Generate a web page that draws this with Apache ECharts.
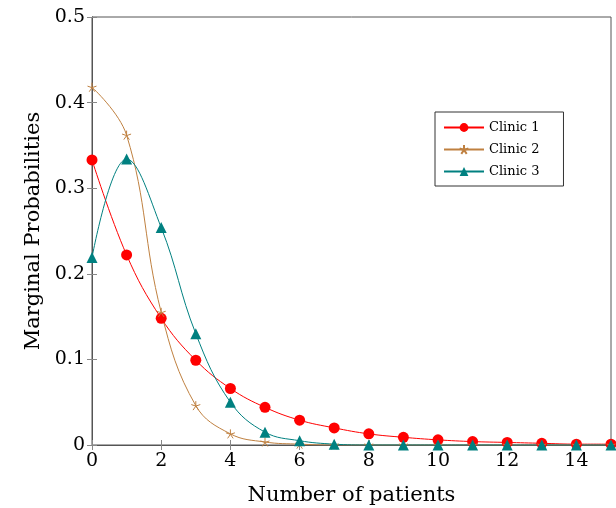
<!DOCTYPE html>
<html>
<head>
<meta charset="utf-8">
<script src="https://cdn.jsdelivr.net/npm/echarts@6/dist/echarts.min.js"></script>
<style>
    html, body { margin: 0; padding: 0; background: #fff; }
    #charts { width: 616px; height: 508px; }
</style>
</head>
<body>
<div id="charts"></div>
<script>
var patients = [0, 1, 2, 3, 4, 5, 6, 7, 8, 9, 10, 11, 12, 13, 14, 15];
var clinic1 = [0.333, 0.222, 0.148, 0.099, 0.066, 0.044, 0.029, 0.020, 0.013, 0.009, 0.006, 0.004, 0.003, 0.002, 0.001, 0.001];
var clinic2 = [0.418, 0.362, 0.155, 0.046, 0.013, 0.0035, 0.001, 0, 0, 0, 0, 0, 0, 0, 0, 0];
var clinic3 = [0.219, 0.334, 0.254, 0.130, 0.050, 0.015, 0.005, 0.001, 0, 0, 0, 0, 0, 0, 0, 0];
var yTicks = [0, 0.1, 0.2, 0.3, 0.4, 0.5];

var serif = 'DejaVu Serif';
var starPath = 'path://M0,0L0,-5M0,0L-4.76,-1.55M0,0L-2.94,4.05M0,0L2.94,4.05M0,0L4.76,-1.55';

function pairs(vals) {
    return patients.map(function (x, i) { return [x, vals[i]]; });
}

var myChart = echarts.init(document.getElementById('charts'));
var tickStyle = { show: true, inside: true, length: 5, lineStyle: { color: '#888' } };
var lineStyle = { show: true, lineStyle: { color: '#555', width: 1 } };

option = {
    animation: false,
    grid: {
        left: 92, right: 5, top: 17, bottom: 63,
        outerBoundsMode: 'none', containLabel: false,
        show: true, borderColor: '#555', borderWidth: 1
    },
    legend: {
        left: 435, top: 112,
        orient: 'vertical',
        itemWidth: 40, itemHeight: 11, itemGap: 9,
        padding: [9, 24, 8, 8],
        borderColor: '#333', borderWidth: 1, borderRadius: 0,
        textStyle: { fontFamily: serif, fontSize: 13, color: '#000' },
        data: ['Clinic 1', 'Clinic 2', 'Clinic 3']
    },
    xAxis: [{
        type: 'value', min: 0, max: 15, interval: 2,
        name: 'Number of patients', nameLocation: 'middle', nameGap: 40,
        nameTextStyle: { fontFamily: serif, fontSize: 21, color: '#000' },
        axisLine: lineStyle, axisTick: tickStyle, splitLine: { show: false },
        axisLabel: {
            fontFamily: serif, fontSize: 19, color: '#000', margin: 7,
            formatter: function (v) { return v % 2 === 0 ? v : ''; }
        }
    }, {
        type: 'value', min: 0, max: 15, interval: 2, position: 'top',
        axisLine: lineStyle, axisTick: tickStyle, axisLabel: { show: false }, splitLine: { show: false }
    }],
    yAxis: [{
        type: 'value', min: yTicks[0], max: yTicks[yTicks.length - 1], interval: 0.1,
        name: 'Marginal Probabilities', nameLocation: 'middle', nameGap: 48,
        nameTextStyle: { fontFamily: serif, fontSize: 21, color: '#000' },
        axisLine: lineStyle, axisTick: tickStyle, splitLine: { show: false },
        axisLabel: {
            fontFamily: serif, fontSize: 19, color: '#000', margin: 7,
            formatter: function (v) { return v === 0 ? '0' : v.toFixed(1); }
        }
    }, {
        type: 'value', min: 0, max: 0.5, interval: 0.1, position: 'right',
        axisLine: lineStyle, axisTick: tickStyle, axisLabel: { show: false }, splitLine: { show: false }
    }],
    series: [{
        name: 'Clinic 1', type: 'line', smooth: 0.4,
        data: pairs(clinic1),
        symbol: 'circle', symbolSize: 11,
        itemStyle: { color: '#ff0000' },
        lineStyle: { color: '#ff0000', width: 1 }
    }, {
        name: 'Clinic 2', type: 'line', smooth: 0.4,
        data: pairs(clinic2),
        symbol: starPath, symbolSize: 9,
        itemStyle: { color: 'rgba(0,0,0,0)', borderColor: '#bf8040', borderWidth: 1 },
        lineStyle: { color: '#bf8040', width: 1 }
    }, {
        name: 'Clinic 3', type: 'line', smooth: 0.4,
        data: pairs(clinic3),
        symbol: 'triangle', symbolSize: 11,
        itemStyle: { color: '#008080' },
        lineStyle: { color: '#008080', width: 1 }
    }]
};
myChart.setOption(option);
</script>
</body>
</html>
